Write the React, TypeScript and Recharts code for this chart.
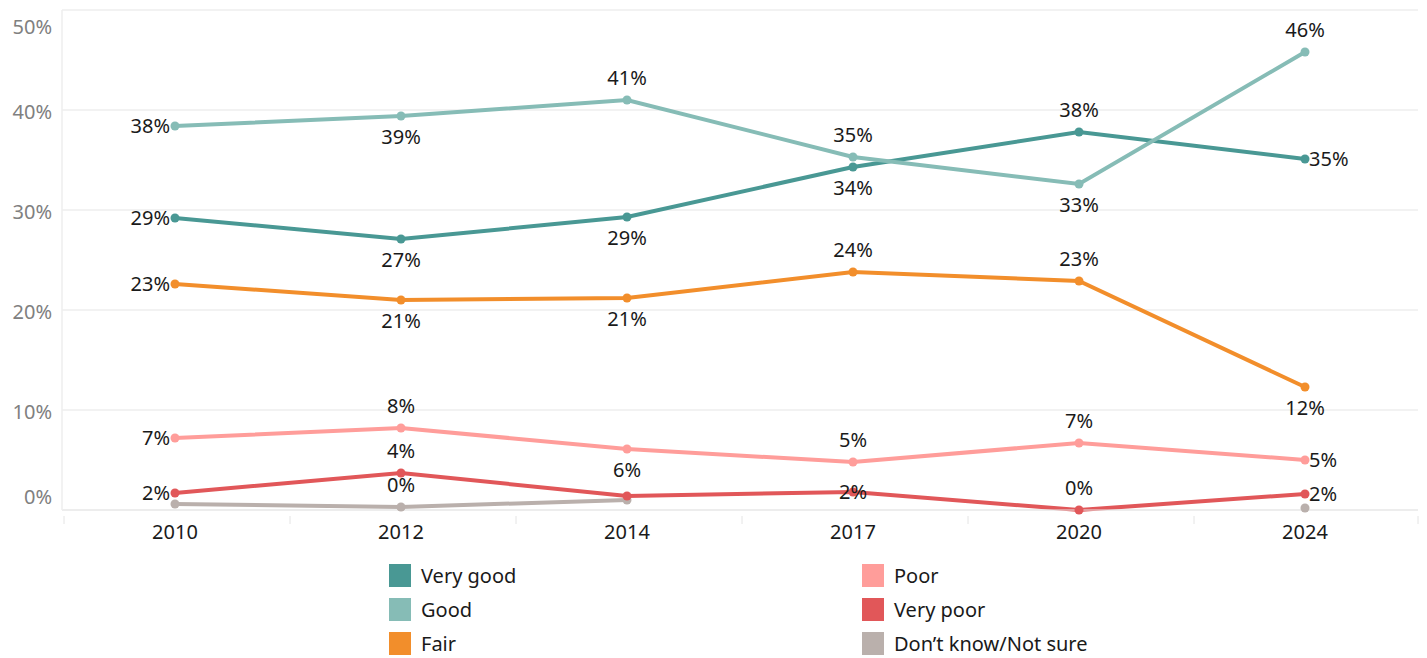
import React from 'react'
import { LineChart, Line, XAxis, YAxis, CartesianGrid } from 'recharts'

const years = ['2010', '2012', '2014', '2017', '2020', '2024']
const veryGood = [29.2, 27.1, 29.3, 34.3, 37.8, 35.1]
const good = [38.4, 39.4, 41.0, 35.3, 32.6, 45.8]
const fair = [22.6, 21.0, 21.2, 23.8, 22.9, 12.3]
const poor = [7.2, 8.2, 6.1, 4.8, 6.7, 5.0]
const veryPoor = [1.7, 3.7, 1.4, 1.8, 0, 1.6]
const dontKnow = [0.6, 0.3, 1.0, null, null, 0.2]
const yTicks = [0, 10, 20, 30, 40, 50]

const FONT = '"Noto Sans", sans-serif'

// where each point's label sits: L left, R right, A above, B below, N none
const series = [
  { key: 'dontKnow', name: 'Don\u2019t know/Not sure', color: '#BAB0AC', values: dontKnow, pos: ['N', 'A', 'N', 'N', 'N', 'N'] },
  { key: 'veryPoor', name: 'Very poor', color: '#E15759', values: veryPoor, pos: ['L', 'A', 'N', 'C', 'A', 'R'] },
  { key: 'poor', name: 'Poor', color: '#FF9D9A', values: poor, pos: ['L', 'A', 'B', 'A', 'A', 'R'] },
  { key: 'fair', name: 'Fair', color: '#F28E2B', values: fair, pos: ['L', 'B', 'B', 'A', 'A', 'B'] },
  { key: 'veryGood', name: 'Very good', color: '#499894', values: veryGood, pos: ['L', 'B', 'B', 'B', 'A', 'R'] },
  { key: 'good', name: 'Good', color: '#86BCB6', values: good, pos: ['L', 'B', 'A', 'A', 'B', 'A'] },
]

const data = years.map((year, i) => {
  const row: any = { year }
  series.forEach((s) => { row[s.key] = s.values[i] })
  return row
})

const legendLeft = [
  { name: 'Very good', color: '#499894' },
  { name: 'Good', color: '#86BCB6' },
  { name: 'Fair', color: '#F28E2B' },
]
const legendRight = [
  { name: 'Poor', color: '#FF9D9A' },
  { name: 'Very poor', color: '#E15759' },
  { name: 'Don\u2019t know/Not sure', color: '#BAB0AC' },
]

const BAND = 226

const makeLabel = (pos: string[]) => (props: any) => {
  const { x, y, index, value } = props
  if (value == null || pos[index] === 'N') return null
  const p = pos[index]
  let tx = x
  let ty = y
  let anchor: any = 'middle'
  if (p === 'L') { tx = x - 5; anchor = 'end' }
  if (p === 'R') { tx = x + 4; anchor = 'start' }
  if (p === 'A') ty = y - 22
  if (p === 'B') ty = y + 21
  return (
    <text key={index} x={tx} y={ty} dy="0.35em" textAnchor={anchor} fontSize={20} fontFamily={FONT} fill="#1a1a1a">
      {Math.round(value)}%
    </text>
  )
}

const YTick = (props: any) => {
  const { y, payload } = props
  let dy = 2
  if (payload.value === 50) dy = 17
  if (payload.value === 0) dy = -13
  return (
    <text x={52} y={y + dy} dy="0.35em" textAnchor="end" fontSize={20} fontFamily={FONT} fill="#808080">
      {payload.value}%
    </text>
  )
}

const XTick = (props: any) => {
  const { x, y, payload, index } = props
  return (
    <g>
      <line x1={x - BAND / 2 + 2} x2={x - BAND / 2 + 2} y1={y - 2} y2={y + 6} stroke="#e4e4e4" />
      {index === years.length - 1 && (
        <line x1={x + BAND / 2} x2={x + BAND / 2} y1={y - 2} y2={y + 6} stroke="#e4e4e4" />
      )}
      <text x={x} y={y + 14} dy="0.35em" textAnchor="middle" fontSize={20} fontFamily={FONT} fill="#1a1a1a">
        {payload.value}
      </text>
    </g>
  )
}

const LegendCol = ({ items, left }: { items: { name: string; color: string }[]; left: number }) => (
  <div style={{ position: 'absolute', left, top: 564 }}>
    {items.map((it) => (
      <div key={it.name} style={{ display: 'flex', alignItems: 'center', height: 34 }}>
        <div style={{ width: 22, height: 23, background: it.color, marginRight: 10, marginTop: -11 }} />
        <span style={{ fontFamily: FONT, fontSize: 20, color: '#1a1a1a', marginTop: -11 }}>{it.name}</span>
      </div>
    ))}
  </div>
)

export default function App() {
  return (
    <div style={{ position: 'absolute', left: 0, top: 0, width: 1427, height: 658, background: '#fff' }}>
      <LineChart width={1427} height={560} data={data} margin={{ top: 10, right: 9, left: 0, bottom: 0 }}>
        <CartesianGrid horizontal vertical={false} stroke="#eeeeee" strokeWidth={1.5} />
        <XAxis
          dataKey="year"
          height={50}
          padding={{ left: BAND / 2, right: BAND / 2 }}
          axisLine={{ stroke: '#e8e8e8' }}
          tickLine={false}
          tick={<XTick />}
          interval={0}
        />
        <YAxis
          width={62}
          domain={[0, 50]}
          ticks={yTicks}
          axisLine={{ stroke: '#eeeeee', strokeWidth: 1.5 }}
          tickLine={false}
          tick={<YTick />}
        />
        {series.map((s) => (
          <Line
            key={s.key}
            dataKey={s.key}
            name={s.name}
            stroke={s.color}
            strokeWidth={4}
            dot={{ r: 4.5, fill: s.color, stroke: s.color, strokeWidth: 0 }}
            activeDot={false}
            isAnimationActive={false}
            connectNulls={false}
            label={makeLabel(s.pos)}
          />
        ))}
      </LineChart>
      <LegendCol items={legendLeft} left={389} />
      <LegendCol items={legendRight} left={862} />
    </div>
  )
}
